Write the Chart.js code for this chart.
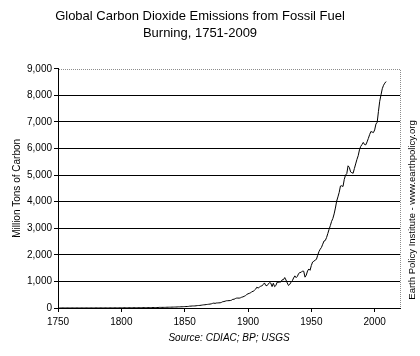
<!DOCTYPE html>
<html><head><meta charset="utf-8">
<script src="https://cdn.jsdelivr.net/npm/chart.js@4"></script>
<style>html,body{margin:0;padding:0;background:#fff}canvas{display:block}</style>
</head><body>
<canvas id="c" width="420" height="356"></canvas>
<script>
const years = [
1751,1752,1753,1754,1755,1756,1757,1758,1759,1760,
1761,1762,1763,1764,1765,1766,1767,1768,1769,1770,
1771,1772,1773,1774,1775,1776,1777,1778,1779,1780,
1781,1782,1783,1784,1785,1786,1787,1788,1789,1790,
1791,1792,1793,1794,1795,1796,1797,1798,1799,1800,
1801,1802,1803,1804,1805,1806,1807,1808,1809,1810,
1811,1812,1813,1814,1815,1816,1817,1818,1819,1820,
1821,1822,1823,1824,1825,1826,1827,1828,1829,1830,
1831,1832,1833,1834,1835,1836,1837,1838,1839,1840,
1841,1842,1843,1844,1845,1846,1847,1848,1849,1850,
1851,1852,1853,1854,1855,1856,1857,1858,1859,1860,
1861,1862,1863,1864,1865,1866,1867,1868,1869,1870,
1871,1872,1873,1874,1875,1876,1877,1878,1879,1880,
1881,1882,1883,1884,1885,1886,1887,1888,1889,1890,
1891,1892,1893,1894,1895,1896,1897,1898,1899,1900,
1901,1902,1903,1904,1905,1906,1907,1908,1909,1910,
1911,1912,1913,1914,1915,1916,1917,1918,1919,1920,
1921,1922,1923,1924,1925,1926,1927,1928,1929,1930,
1931,1932,1933,1934,1935,1936,1937,1938,1939,1940,
1941,1942,1943,1944,1945,1946,1947,1948,1949,1950,
1951,1952,1953,1954,1955,1956,1957,1958,1959,1960,
1961,1962,1963,1964,1965,1966,1967,1968,1969,1970,
1971,1972,1973,1974,1975,1976,1977,1978,1979,1980,
1981,1982,1983,1984,1985,1986,1987,1988,1989,1990,
1991,1992,1993,1994,1995,1996,1997,1998,1999,2000,
2001,2002,2003,2004,2005,2006,2007,2008,2009];

const emissions = [
3,3,3,3,3,3,3,3,3,3,
3,3,3,3,3,3,3,3,3,3,
4,4,4,4,4,4,4,4,4,5,
5,5,5,5,5,5,5,5,5,5,
6,6,6,6,6,6,7,7,7,8,
8,10,9,9,9,10,10,10,10,10,
11,11,11,11,12,13,14,14,14,14,
14,15,16,16,17,17,18,18,18,24,
23,23,24,24,25,29,29,30,31,33,
34,36,37,39,43,43,46,47,50,54,
54,57,59,69,71,76,77,78,83,91,
95,97,104,112,119,122,130,135,142,147,
156,173,184,174,188,191,194,196,210,236,
243,256,272,275,277,281,295,327,327,356,
372,374,370,383,406,419,440,465,507,534,
552,566,617,624,663,707,784,750,785,819,
836,879,943,850,838,901,955,936,806,932,
803,845,970,963,975,983,1062,1065,1145,1053,
940,847,893,973,1027,1130,1209,1142,1192,1299,
1334,1342,1391,1383,1160,1238,1392,1469,1419,1600,
1730,1760,1800,1830,1980,2120,2210,2280,2400,2520,
2540,2650,2800,2960,3100,3260,3370,3540,3760,4020,
4180,4350,4590,4600,4570,4840,5000,5060,5350,5290,
5120,5090,5070,5250,5420,5590,5730,5950,6080,6150,
6230,6150,6140,6250,6380,6520,6640,6620,6600,6700,
6920,6990,7400,7780,8020,8250,8380,8460,8520];

const xTickValues = [1750, 1800, 1850, 1900, 1950, 2000];
const yTickValues = [0, 1000, 2000, 3000, 4000, 5000, 6000, 7000, 8000, 9000];
const titleLines = ['Global Carbon Dioxide Emissions from Fossil Fuel', 'Burning, 1751-2009'];
const yAxisTitle = 'Million Tons of Carbon';
const sourceText = 'Source: CDIAC; BP; USGS';
const creditText = 'Earth Policy Institute - www.earthpolicy.org';

const FONT = "'Liberation Sans', Arial, sans-serif";

const framePlugin = {
  id: 'frame',
  afterDraw(chart) {
    const {ctx, chartArea: a} = chart;
    ctx.save();
    ctx.strokeStyle = '#8c8c8c';
    ctx.lineWidth = 1;
    ctx.setLineDash([1, 1]);
    ctx.beginPath();
    ctx.moveTo(Math.round(a.left) + 1, Math.round(a.top) + 0.5);
    ctx.lineTo(Math.round(a.right) + 0.5, Math.round(a.top) + 0.5);
    ctx.lineTo(Math.round(a.right) + 0.5, Math.round(a.bottom));
    ctx.stroke();
    ctx.setLineDash([]);
    ctx.fillStyle = '#000';
    ctx.font = '9.5px ' + FONT;
    ctx.textAlign = 'center';
    ctx.textBaseline = 'middle';
    ctx.translate(412, 210);
    ctx.rotate(-Math.PI / 2);
    ctx.fillText(creditText, 0, 0);
    ctx.restore();
  }
};

new Chart(document.getElementById('c'), {
  type: 'line',
  data: {
    datasets: [{
      data: years.map((y, i) => ({x: y, y: emissions[i]})),
      borderColor: '#000',
      borderWidth: 1,
      pointRadius: 0,
      tension: 0,
      fill: false
    }]
  },
  options: {
    responsive: false,
    animation: false,
    devicePixelRatio: 1,
    layout: {padding: {left: 0, right: 20, top: 0, bottom: 0}},
    plugins: {
      legend: {display: false},
      tooltip: {enabled: false},
      title: {
        display: true,
        text: titleLines,
        color: '#000',
        font: {family: FONT, size: 13, weight: 'normal', lineHeight: 1.3},
        padding: {top: 8, bottom: 27}
      }
    },
    scales: {
      x: {
        type: 'linear',
        min: 1750,
        max: 2020,
        afterBuildTicks: s => { s.ticks = xTickValues.map(v => ({value: v})); },
        afterFit: s => { s.height = 48; },
        ticks: {color: '#000', font: {family: FONT, size: 10}, padding: 4, maxRotation: 0, autoSkip: false, callback: v => String(v)},
        grid: {drawOnChartArea: false, drawTicks: true, tickLength: 4, color: '#000', tickColor: '#000'},
        border: {color: '#000', width: 1},
        title: {display: true, text: sourceText, color: '#000', font: {family: FONT, size: 10, style: 'italic'}, padding: {top: 0, bottom: 12}}
      },
      y: {
        min: 0,
        max: 9000,
        afterBuildTicks: s => { s.ticks = yTickValues.map(v => ({value: v})); },
        afterFit: s => { s.width = 58; },
        ticks: {color: '#000', font: {family: FONT, size: 10}, padding: 2, callback: v => v.toLocaleString('en-US')},
        grid: {
          color: c => (c.tick && c.tick.value === 9000) ? 'rgba(0,0,0,0)' : '#000',
          tickColor: '#000',
          tickLength: 4,
          lineWidth: 1
        },
        border: {color: '#000', width: 1},
        title: {display: true, text: yAxisTitle, color: '#000', font: {family: FONT, size: 10}, padding: {top: 11, bottom: 0}}
      }
    }
  },
  plugins: [framePlugin]
});
</script>
</body></html>
